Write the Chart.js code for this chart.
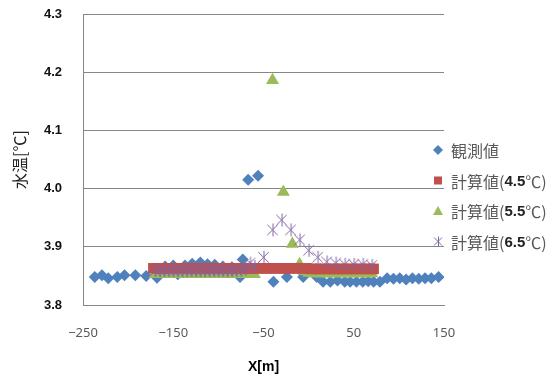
<!DOCTYPE html>
<html>
<head>
<meta charset="utf-8">
<script src="https://cdn.jsdelivr.net/npm/chart.js@4/dist/chart.umd.min.js"></script>
<style>
  html, body { margin: 0; padding: 0; background: #fff; }
  #wrap { width: 559px; height: 380px; }
</style>
</head>
<body>
<div id="wrap"><canvas id="c" width="559" height="380"></canvas></div>
<script>
// Series names (legend order)
const seriesNames = ['観測値', '計算値(4.5℃)', '計算値(5.5℃)', '計算値(6.5℃)'];

// Observed water temperature along the section
const obsX = [-237, -229, -222, -212, -204, -192, -180, -168, -159, -150, -145, -137, -129, -120, -112, -104, -95, -85, -76, -73, -67, -56,
              -39, -24, -6, 9, 16, 24, 32, 40, 46, 53, 60, 66, 72, 79, 87, 94, 101, 108, 115, 122, 129, 136, 144];
const obsY = [3.848, 3.851, 3.846, 3.848, 3.851, 3.851, 3.850, 3.847, 3.866, 3.868, 3.853, 3.868, 3.871, 3.873, 3.870, 3.869, 3.866, 3.865, 3.848, 3.878, 4.015, 4.022,
              3.840, 3.848, 3.848, 3.848, 3.840, 3.840, 3.842, 3.840, 3.840, 3.840, 3.840, 3.841, 3.840, 3.840, 3.846, 3.845, 3.846, 3.844, 3.846, 3.845, 3.846, 3.846, 3.848];

// Computed, 4.5 ℃ case
const calc45X = [-172, -167, -162, -157, -152, -147, -142, -137, -132, -127, -122, -117, -112, -107, -102, -97, -92, -87, -82, -77, -72, -67, -62,
                 -57, -52, -47, -42, -37, -32, -27, -22, -17, -12, -7, -2, 3, 8, 13, 18, 23, 28, 33, 38, 43, 48, 53, 58, 63, 68, 72];
const calc45Y = [3.863, 3.863, 3.863, 3.863, 3.863, 3.863, 3.863, 3.863, 3.863, 3.863, 3.863, 3.863, 3.863, 3.863, 3.863, 3.863, 3.863, 3.863, 3.863, 3.863, 3.863, 3.863, 3.863,
                 3.863, 3.863, 3.863, 3.863, 3.863, 3.863, 3.863, 3.863, 3.863, 3.863, 3.863, 3.863, 3.862, 3.862, 3.862, 3.862, 3.862, 3.862, 3.862, 3.862, 3.862, 3.862, 3.862, 3.862, 3.862, 3.862, 3.862];

// Computed, 5.5 ℃ case
const calc55X = [-170, -165, -160, -155, -150, -145, -140, -135, -130, -125, -120, -115, -110, -105, -100, -95, -90, -85, -80, -75, -70, -65, -60,
                 -40, -28, -18, -10, -5, 0, 5, 10, 15, 20, 25, 30, 35, 40, 45, 50, 55, 60, 65, 70];
const calc55Y = [3.853, 3.853, 3.853, 3.853, 3.853, 3.853, 3.853, 3.853, 3.853, 3.853, 3.853, 3.853, 3.853, 3.853, 3.853, 3.853, 3.853, 3.853, 3.853, 3.853, 3.853, 3.853, 3.853,
                 4.186, 3.994, 3.905, 3.870, 3.858, 3.855, 3.854, 3.854, 3.854, 3.854, 3.854, 3.854, 3.854, 3.854, 3.854, 3.854, 3.854, 3.854, 3.854, 3.854];

// Computed, 6.5 ℃ case
const calc65X = [-170, -165, -160, -155, -150, -145, -140, -135, -130, -125, -120, -115, -110, -105, -100, -95, -90, -85, -80, -75, -70, -65, -60,
                 -50, -40, -30, -20, -10, 0, 10, 20, 30, 40, 50, 60, 70];
const calc65Y = [3.859, 3.859, 3.859, 3.859, 3.859, 3.859, 3.859, 3.859, 3.859, 3.859, 3.859, 3.859, 3.859, 3.859, 3.859, 3.859, 3.859, 3.859, 3.859, 3.860, 3.862, 3.872, 3.866,
                 3.882, 3.929, 3.946, 3.929, 3.912, 3.894, 3.882, 3.874, 3.872, 3.870, 3.870, 3.870, 3.868];

// Axis ranges and ticks
const xMin = -250, xMax = 150, xStep = 100;
const yMin = 3.8, yMax = 4.3, yStep = 0.1;
const xTitle = 'X[m]';
const yTitle = '水温[℃]';

const COLORS = ['#4F81BD', '#C0504D', '#9BBB59', '#8064A2'];

function pts(xs, ys) { return xs.map((x, i) => ({ x: x, y: ys[i] })); }

// six-armed asterisk marker (X with a vertical bar)
function starMarker(size, color) {
  const cv = document.createElement('canvas');
  cv.width = size; cv.height = size;
  const g = cv.getContext('2d');
  g.strokeStyle = color; g.lineWidth = 1;
  const m = size / 2, r = size / 2 - 1;
  g.beginPath();
  g.moveTo(m - r * 0.8, m - r * 0.8); g.lineTo(m + r * 0.8, m + r * 0.8);
  g.moveTo(m + r * 0.8, m - r * 0.8); g.lineTo(m - r * 0.8, m + r * 0.8);
  g.moveTo(m + 0.5, m - r); g.lineTo(m + 0.5, m + r);
  g.stroke();
  return cv;
}

const starBig = starMarker(15, COLORS[3]);

// legend drawn at the right, partly over the plot edge
const sideLegend = {
  id: 'sideLegend',
  afterDraw(chart) {
    const ctx = chart.ctx;
    const mx = 438, tx = 451, y0 = 150, gap = 30.5;
    ctx.save();
    seriesNames.forEach((name, i) => {
      const y = y0 + i * gap;
      ctx.fillStyle = COLORS[i];
      ctx.strokeStyle = COLORS[i];
      ctx.beginPath();
      if (i === 0) {
        ctx.moveTo(mx, y - 5); ctx.lineTo(mx + 5, y); ctx.lineTo(mx, y + 5); ctx.lineTo(mx - 5, y); ctx.closePath(); ctx.fill();
      } else if (i === 1) {
        ctx.rect(mx - 4, y - 4, 8, 8); ctx.fill();
      } else if (i === 2) {
        ctx.moveTo(mx, y - 5); ctx.lineTo(mx + 5, y + 4); ctx.lineTo(mx - 5, y + 4); ctx.closePath(); ctx.fill();
      } else {
        ctx.lineWidth = 1;
        ctx.moveTo(mx - 4, y - 4); ctx.lineTo(mx + 4, y + 4);
        ctx.moveTo(mx + 4, y - 4); ctx.lineTo(mx - 4, y + 4);
        ctx.moveTo(mx + 0.5, y - 5); ctx.lineTo(mx + 0.5, y + 5);
        ctx.stroke();
      }
      // label: numbers set in bold
      let x = tx;
      ctx.textBaseline = 'middle';
      ctx.textAlign = 'left';
      name.split(/(\d\.\d)/).forEach(part => {
        if (!part) return;
        const bold = /^\d\.\d$/.test(part);
        ctx.font = bold ? 'bold 15px "Liberation Sans", sans-serif' : '16px "Noto Sans CJK JP", sans-serif';
        ctx.fillStyle = bold ? '#222' : '#595959';
        ctx.fillText(part, x, y + 1);
        x += ctx.measureText(part).width;
      });
    });
    ctx.restore();
  }
};

new Chart(document.getElementById('c'), {
  type: 'scatter',
  data: {
    datasets: [
      { label: seriesNames[0], data: pts(obsX, obsY), pointStyle: 'rectRot', pointRadius: 6, backgroundColor: COLORS[0], borderColor: COLORS[0], borderWidth: 0, order: 4 },
      { label: seriesNames[1], data: pts(calc45X, calc45Y), pointStyle: 'rect', pointRadius: 7.5, backgroundColor: COLORS[1], borderColor: COLORS[1], borderWidth: 0, order: 2 },
      { label: seriesNames[2], data: pts(calc55X, calc55Y), pointStyle: 'triangle', pointRadius: 7.5, backgroundColor: COLORS[2], borderColor: COLORS[2], borderWidth: 0, order: 3 },
      { label: seriesNames[3], data: pts(calc65X, calc65Y), pointStyle: starBig, pointRadius: 7, backgroundColor: COLORS[3], borderColor: COLORS[3], borderWidth: 1, order: 1 }
    ]
  },
  options: {
    responsive: false,
    animation: false,
    devicePixelRatio: 1,
    layout: { padding: { left: 0, right: 115, top: 14, bottom: 0 } },
    plugins: { legend: { display: false }, tooltip: { enabled: false }, title: { display: false } },
    scales: {
      x: {
        type: 'linear', min: xMin, max: xMax,
        afterFit(s) { s.height = 75; s.paddingTop = 0; s.paddingBottom = 0; },
        ticks: {
          stepSize: xStep, padding: 20, color: '#595959',
          font: { family: '"Noto Sans", sans-serif', size: 13 },
          callback: v => (v < 0 ? '\u2212' + Math.abs(v) : String(v))
        },
        grid: { display: false, drawTicks: false },
        border: { display: true, color: '#868686', width: 1 },
        title: { display: true, text: xTitle, color: '#000', padding: 4, font: { family: '"Liberation Sans", sans-serif', size: 14, weight: 'bold' } }
      },
      y: {
        type: 'linear', min: yMin, max: yMax,
        afterFit(s) { s.width = 83; s.paddingTop = 0; s.paddingBottom = 0; },
        ticks: {
          stepSize: yStep, padding: 21, color: '#111',
          font: { family: '"Liberation Sans", sans-serif', size: 13, weight: 'bold' },
          callback: v => v.toFixed(1)
        },
        grid: { color: '#868686', lineWidth: 1, drawTicks: false },
        border: { display: true, color: '#868686', width: 1 },
        title: { display: true, text: yTitle, color: '#222', padding: 10, font: { family: '"Noto Sans CJK JP", sans-serif', size: 16 } }
      }
    }
  },
  plugins: [sideLegend]
});
</script>
</body>
</html>
